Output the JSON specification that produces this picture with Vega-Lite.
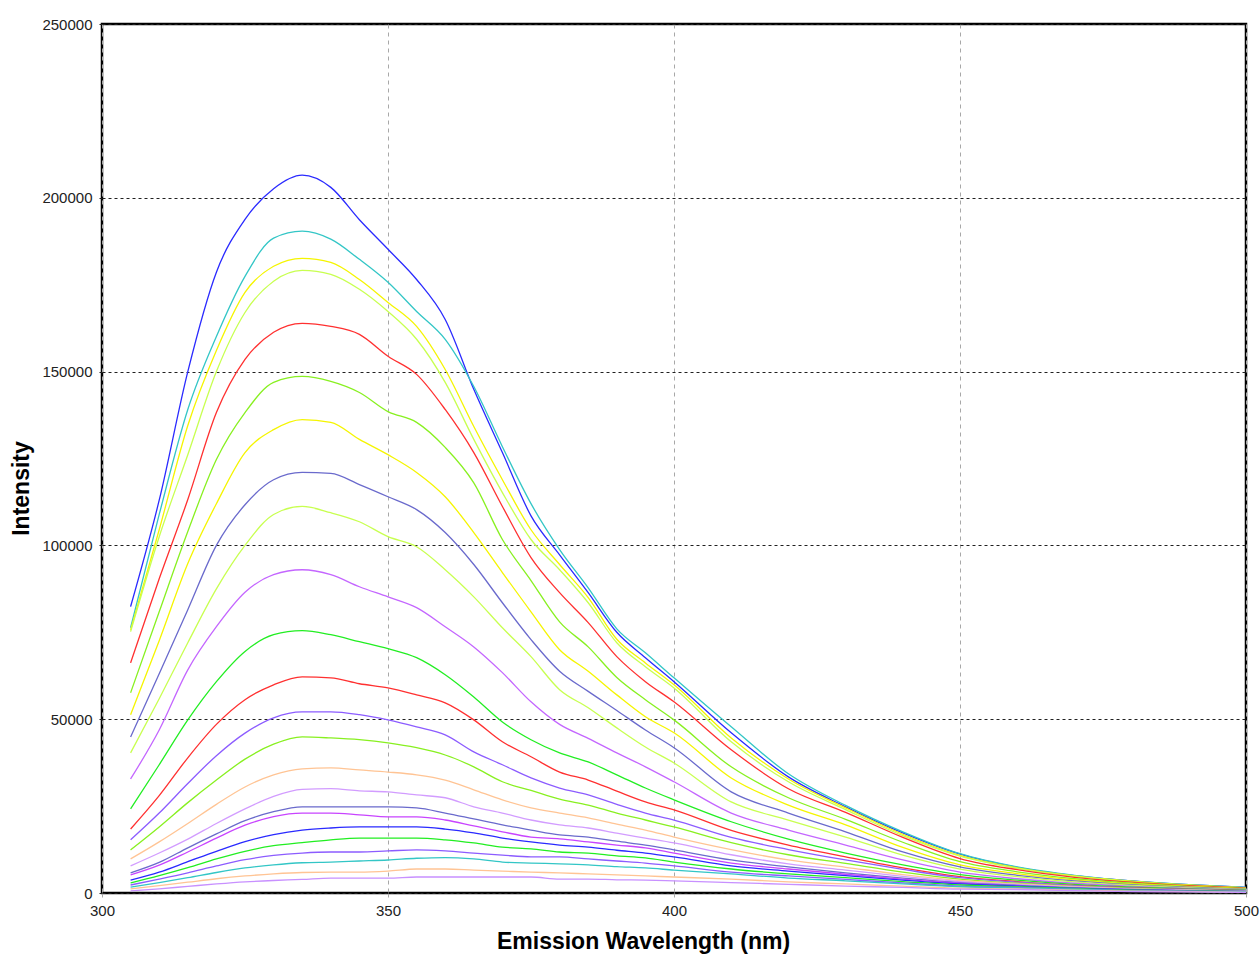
{
"$schema":"https://vega.github.io/schema/vega-lite/v6.json",
"width":1144,"height":869,
"autosize":{"type":"none"},
"padding":{"left":102,"top":24,"right":14,"bottom":63},
"background":"white",
"config":{"view":{"stroke":"black","strokeWidth":2.5},"font":"Liberation Sans"},
"data":{"values":[
{"w":305,"s":1,"i":82400},{"w":310,"s":1,"i":113000},{"w":315,"s":1,"i":150000},{"w":320,"s":1,"i":178600},{"w":325,"s":1,"i":193800},{"w":330,"s":1,"i":202600},{"w":335,"s":1,"i":206500},{"w":340,"s":1,"i":203000},{"w":345,"s":1,"i":193700},{"w":350,"s":1,"i":185200},{"w":355,"s":1,"i":176500},{"w":360,"s":1,"i":165000},{"w":365,"s":1,"i":144900},{"w":370,"s":1,"i":126700},{"w":375,"s":1,"i":108500},{"w":380,"s":1,"i":97300},{"w":385,"s":1,"i":86400},{"w":390,"s":1,"i":75000},{"w":395,"s":1,"i":67700},{"w":400,"s":1,"i":60800},{"w":410,"s":1,"i":46100},{"w":420,"s":1,"i":33400},{"w":430,"s":1,"i":24800},{"w":440,"s":1,"i":17300},{"w":450,"s":1,"i":11200},{"w":460,"s":1,"i":7400},{"w":470,"s":1,"i":5000},{"w":480,"s":1,"i":3500},{"w":490,"s":1,"i":2400},{"w":500,"s":1,"i":1600},
{"w":305,"s":2,"i":76300},{"w":310,"s":2,"i":108900},{"w":315,"s":2,"i":139100},{"w":320,"s":2,"i":160100},{"w":325,"s":2,"i":177400},{"w":330,"s":2,"i":188400},{"w":335,"s":2,"i":190400},{"w":340,"s":2,"i":188100},{"w":345,"s":2,"i":182300},{"w":350,"s":2,"i":175700},{"w":355,"s":2,"i":167300},{"w":360,"s":2,"i":159300},{"w":365,"s":2,"i":145700},{"w":370,"s":2,"i":128400},{"w":375,"s":2,"i":112000},{"w":380,"s":2,"i":98800},{"w":385,"s":2,"i":87800},{"w":390,"s":2,"i":76000},{"w":395,"s":2,"i":69100},{"w":400,"s":2,"i":61900},{"w":410,"s":2,"i":47800},{"w":420,"s":2,"i":34300},{"w":430,"s":2,"i":25200},{"w":440,"s":2,"i":17600},{"w":450,"s":2,"i":11300},{"w":460,"s":2,"i":7500},{"w":470,"s":2,"i":5100},{"w":480,"s":2,"i":3500},{"w":490,"s":2,"i":2400},{"w":500,"s":2,"i":1600},
{"w":305,"s":3,"i":75700},{"w":310,"s":3,"i":104500},{"w":315,"s":3,"i":134500},{"w":320,"s":3,"i":156100},{"w":325,"s":3,"i":172800},{"w":330,"s":3,"i":180300},{"w":335,"s":3,"i":182600},{"w":340,"s":3,"i":181400},{"w":345,"s":3,"i":176500},{"w":350,"s":3,"i":169900},{"w":355,"s":3,"i":163000},{"w":360,"s":3,"i":150600},{"w":365,"s":3,"i":134200},{"w":370,"s":3,"i":118900},{"w":375,"s":3,"i":104500},{"w":380,"s":3,"i":94500},{"w":385,"s":3,"i":85000},{"w":390,"s":3,"i":73000},{"w":395,"s":3,"i":66200},{"w":400,"s":3,"i":59900},{"w":410,"s":3,"i":44600},{"w":420,"s":3,"i":32800},{"w":430,"s":3,"i":24500},{"w":440,"s":3,"i":16900},{"w":450,"s":3,"i":10800},{"w":460,"s":3,"i":7200},{"w":470,"s":3,"i":4900},{"w":480,"s":3,"i":3400},{"w":490,"s":3,"i":2300},{"w":500,"s":3,"i":1500},
{"w":305,"s":4,"i":75200},{"w":310,"s":4,"i":102500},{"w":315,"s":4,"i":126100},{"w":320,"s":4,"i":150000},{"w":325,"s":4,"i":167000},{"w":330,"s":4,"i":176000},{"w":335,"s":4,"i":179100},{"w":340,"s":4,"i":178000},{"w":345,"s":4,"i":173700},{"w":350,"s":4,"i":167300},{"w":355,"s":4,"i":159300},{"w":360,"s":4,"i":146900},{"w":365,"s":4,"i":130500},{"w":370,"s":4,"i":115200},{"w":375,"s":4,"i":101700},{"w":380,"s":4,"i":93000},{"w":385,"s":4,"i":83500},{"w":390,"s":4,"i":72000},{"w":395,"s":4,"i":65100},{"w":400,"s":4,"i":59000},{"w":410,"s":4,"i":43500},{"w":420,"s":4,"i":32000},{"w":430,"s":4,"i":24000},{"w":440,"s":4,"i":16500},{"w":450,"s":4,"i":10600},{"w":460,"s":4,"i":7100},{"w":470,"s":4,"i":4800},{"w":480,"s":4,"i":3300},{"w":490,"s":4,"i":2200},{"w":500,"s":4,"i":1500},
{"w":305,"s":5,"i":66200},{"w":310,"s":5,"i":90400},{"w":315,"s":5,"i":113200},{"w":320,"s":5,"i":138200},{"w":325,"s":5,"i":153500},{"w":330,"s":5,"i":161300},{"w":335,"s":5,"i":163900},{"w":340,"s":5,"i":163000},{"w":345,"s":5,"i":160700},{"w":350,"s":5,"i":154400},{"w":355,"s":5,"i":149200},{"w":360,"s":5,"i":139100},{"w":365,"s":5,"i":126700},{"w":370,"s":5,"i":111200},{"w":375,"s":5,"i":96500},{"w":380,"s":5,"i":86400},{"w":385,"s":5,"i":77800},{"w":390,"s":5,"i":68000},{"w":395,"s":5,"i":60800},{"w":400,"s":5,"i":55000},{"w":410,"s":5,"i":41200},{"w":420,"s":5,"i":30000},{"w":430,"s":5,"i":23200},{"w":440,"s":5,"i":16000},{"w":450,"s":5,"i":9900},{"w":460,"s":5,"i":6700},{"w":470,"s":5,"i":4500},{"w":480,"s":5,"i":3100},{"w":490,"s":5,"i":2100},{"w":500,"s":5,"i":1400},
{"w":305,"s":6,"i":57600},{"w":310,"s":6,"i":80900},{"w":315,"s":6,"i":104000},{"w":320,"s":6,"i":124700},{"w":325,"s":6,"i":138200},{"w":330,"s":6,"i":146900},{"w":335,"s":6,"i":148600},{"w":340,"s":6,"i":147200},{"w":345,"s":6,"i":144000},{"w":350,"s":6,"i":138500},{"w":355,"s":6,"i":135400},{"w":360,"s":6,"i":128200},{"w":365,"s":6,"i":118000},{"w":370,"s":6,"i":101700},{"w":375,"s":6,"i":89900},{"w":380,"s":6,"i":78000},{"w":385,"s":6,"i":70800},{"w":390,"s":6,"i":62000},{"w":395,"s":6,"i":55600},{"w":400,"s":6,"i":49800},{"w":410,"s":6,"i":36300},{"w":420,"s":6,"i":27400},{"w":430,"s":6,"i":21200},{"w":440,"s":6,"i":14600},{"w":450,"s":6,"i":9000},{"w":460,"s":6,"i":6100},{"w":470,"s":6,"i":4100},{"w":480,"s":6,"i":2800},{"w":490,"s":6,"i":1900},{"w":500,"s":6,"i":1300},
{"w":305,"s":7,"i":51300},{"w":310,"s":7,"i":72600},{"w":315,"s":7,"i":94800},{"w":320,"s":7,"i":112000},{"w":325,"s":7,"i":126700},{"w":330,"s":7,"i":133300},{"w":335,"s":7,"i":136200},{"w":340,"s":7,"i":135400},{"w":345,"s":7,"i":130500},{"w":350,"s":7,"i":126100},{"w":355,"s":7,"i":121000},{"w":360,"s":7,"i":114000},{"w":365,"s":7,"i":103700},{"w":370,"s":7,"i":92200},{"w":375,"s":7,"i":80900},{"w":380,"s":7,"i":70000},{"w":385,"s":7,"i":63800},{"w":390,"s":7,"i":57000},{"w":395,"s":7,"i":50700},{"w":400,"s":7,"i":46100},{"w":410,"s":7,"i":33100},{"w":420,"s":7,"i":25300},{"w":430,"s":7,"i":19600},{"w":440,"s":7,"i":13100},{"w":450,"s":7,"i":8100},{"w":460,"s":7,"i":5600},{"w":470,"s":7,"i":3800},{"w":480,"s":7,"i":2600},{"w":490,"s":7,"i":1800},{"w":500,"s":7,"i":1200},
{"w":305,"s":8,"i":44900},{"w":310,"s":8,"i":63100},{"w":315,"s":8,"i":81500},{"w":320,"s":8,"i":100000},{"w":325,"s":8,"i":111700},{"w":330,"s":8,"i":118900},{"w":335,"s":8,"i":121000},{"w":340,"s":8,"i":120700},{"w":345,"s":8,"i":117500},{"w":350,"s":8,"i":114000},{"w":355,"s":8,"i":110300},{"w":360,"s":8,"i":103700},{"w":365,"s":8,"i":94500},{"w":370,"s":8,"i":83500},{"w":375,"s":8,"i":72900},{"w":380,"s":8,"i":63800},{"w":385,"s":8,"i":58000},{"w":390,"s":8,"i":52500},{"w":395,"s":8,"i":46900},{"w":400,"s":8,"i":41800},{"w":410,"s":8,"i":29100},{"w":420,"s":8,"i":23000},{"w":430,"s":8,"i":17600},{"w":440,"s":8,"i":11800},{"w":450,"s":8,"i":7500},{"w":460,"s":8,"i":5100},{"w":470,"s":8,"i":3500},{"w":480,"s":8,"i":2400},{"w":490,"s":8,"i":1700},{"w":500,"s":8,"i":1100},
{"w":305,"s":9,"i":40300},{"w":310,"s":9,"i":55900},{"w":315,"s":9,"i":72000},{"w":320,"s":9,"i":87500},{"w":325,"s":9,"i":100000},{"w":330,"s":9,"i":108900},{"w":335,"s":9,"i":111200},{"w":340,"s":9,"i":109400},{"w":345,"s":9,"i":106800},{"w":350,"s":9,"i":102500},{"w":355,"s":9,"i":99600},{"w":360,"s":9,"i":93000},{"w":365,"s":9,"i":85200},{"w":370,"s":9,"i":76300},{"w":375,"s":9,"i":68000},{"w":380,"s":9,"i":58500},{"w":385,"s":9,"i":53300},{"w":390,"s":9,"i":47500},{"w":395,"s":9,"i":42000},{"w":400,"s":9,"i":37400},{"w":410,"s":9,"i":26200},{"w":420,"s":9,"i":21000},{"w":430,"s":9,"i":16100},{"w":440,"s":9,"i":10900},{"w":450,"s":9,"i":6900},{"w":460,"s":9,"i":4700},{"w":470,"s":9,"i":3200},{"w":480,"s":9,"i":2200},{"w":490,"s":9,"i":1500},{"w":500,"s":9,"i":1000},
{"w":305,"s":10,"i":32800},{"w":310,"s":10,"i":46900},{"w":315,"s":10,"i":64200},{"w":320,"s":10,"i":76600},{"w":325,"s":10,"i":86500},{"w":330,"s":10,"i":91600},{"w":335,"s":10,"i":93000},{"w":340,"s":10,"i":91600},{"w":345,"s":10,"i":88100},{"w":350,"s":10,"i":85200},{"w":355,"s":10,"i":82100},{"w":360,"s":10,"i":76600},{"w":365,"s":10,"i":70800},{"w":370,"s":10,"i":63400},{"w":375,"s":10,"i":55000},{"w":380,"s":10,"i":48500},{"w":385,"s":10,"i":44500},{"w":390,"s":10,"i":40300},{"w":395,"s":10,"i":36300},{"w":400,"s":10,"i":32000},{"w":410,"s":10,"i":23000},{"w":420,"s":10,"i":18100},{"w":430,"s":10,"i":13800},{"w":440,"s":10,"i":9500},{"w":450,"s":10,"i":6000},{"w":460,"s":10,"i":4100},{"w":470,"s":10,"i":2800},{"w":480,"s":10,"i":1900},{"w":490,"s":10,"i":1300},{"w":500,"s":10,"i":900},
{"w":305,"s":11,"i":24200},{"w":310,"s":11,"i":36900},{"w":315,"s":11,"i":49800},{"w":320,"s":11,"i":60800},{"w":325,"s":11,"i":69500},{"w":330,"s":11,"i":74300},{"w":335,"s":11,"i":75500},{"w":340,"s":11,"i":74300},{"w":345,"s":11,"i":72300},{"w":350,"s":11,"i":70300},{"w":355,"s":11,"i":67700},{"w":360,"s":11,"i":62800},{"w":365,"s":11,"i":56400},{"w":370,"s":11,"i":49200},{"w":375,"s":11,"i":44100},{"w":380,"s":11,"i":40300},{"w":385,"s":11,"i":37700},{"w":390,"s":11,"i":34000},{"w":395,"s":11,"i":30200},{"w":400,"s":11,"i":26800},{"w":410,"s":11,"i":20500},{"w":420,"s":11,"i":15500},{"w":430,"s":11,"i":11500},{"w":440,"s":11,"i":8100},{"w":450,"s":11,"i":5300},{"w":460,"s":11,"i":3700},{"w":470,"s":11,"i":2500},{"w":480,"s":11,"i":1700},{"w":490,"s":11,"i":1200},{"w":500,"s":11,"i":800},
{"w":305,"s":12,"i":18400},{"w":310,"s":12,"i":28000},{"w":315,"s":12,"i":38900},{"w":320,"s":12,"i":48500},{"w":325,"s":12,"i":55600},{"w":330,"s":12,"i":59900},{"w":335,"s":12,"i":62200},{"w":340,"s":12,"i":61900},{"w":345,"s":12,"i":60200},{"w":350,"s":12,"i":59000},{"w":355,"s":12,"i":57000},{"w":360,"s":12,"i":54700},{"w":365,"s":12,"i":49800},{"w":370,"s":12,"i":43500},{"w":375,"s":12,"i":39200},{"w":380,"s":12,"i":34800},{"w":385,"s":12,"i":32500},{"w":390,"s":12,"i":29300},{"w":395,"s":12,"i":26200},{"w":400,"s":12,"i":23900},{"w":410,"s":12,"i":18000},{"w":420,"s":12,"i":13800},{"w":430,"s":12,"i":10400},{"w":440,"s":12,"i":7200},{"w":450,"s":12,"i":4700},{"w":460,"s":12,"i":3300},{"w":470,"s":12,"i":2200},{"w":480,"s":12,"i":1500},{"w":490,"s":12,"i":1000},{"w":500,"s":12,"i":700},
{"w":305,"s":13,"i":15300},{"w":310,"s":13,"i":23000},{"w":315,"s":13,"i":31500},{"w":320,"s":13,"i":39500},{"w":325,"s":13,"i":46000},{"w":330,"s":13,"i":50400},{"w":335,"s":13,"i":52100},{"w":340,"s":13,"i":52100},{"w":345,"s":13,"i":51300},{"w":350,"s":13,"i":49800},{"w":355,"s":13,"i":47800},{"w":360,"s":13,"i":45500},{"w":365,"s":13,"i":40600},{"w":370,"s":13,"i":36900},{"w":375,"s":13,"i":33100},{"w":380,"s":13,"i":30200},{"w":385,"s":13,"i":28200},{"w":390,"s":13,"i":25500},{"w":395,"s":13,"i":23000},{"w":400,"s":13,"i":21000},{"w":410,"s":13,"i":16000},{"w":420,"s":13,"i":12500},{"w":430,"s":13,"i":9500},{"w":440,"s":13,"i":6800},{"w":450,"s":13,"i":4400},{"w":460,"s":13,"i":3100},{"w":470,"s":13,"i":2100},{"w":480,"s":13,"i":1400},{"w":490,"s":13,"i":1000},{"w":500,"s":13,"i":700},
{"w":305,"s":14,"i":12400},{"w":310,"s":14,"i":19000},{"w":315,"s":14,"i":26000},{"w":320,"s":14,"i":32500},{"w":325,"s":14,"i":38500},{"w":330,"s":14,"i":42800},{"w":335,"s":14,"i":44900},{"w":340,"s":14,"i":44600},{"w":345,"s":14,"i":44100},{"w":350,"s":14,"i":43200},{"w":355,"s":14,"i":41800},{"w":360,"s":14,"i":39700},{"w":365,"s":14,"i":36300},{"w":370,"s":14,"i":32000},{"w":375,"s":14,"i":29500},{"w":380,"s":14,"i":27000},{"w":385,"s":14,"i":25300},{"w":390,"s":14,"i":23000},{"w":395,"s":14,"i":21000},{"w":400,"s":14,"i":19000},{"w":410,"s":14,"i":14500},{"w":420,"s":14,"i":11000},{"w":430,"s":14,"i":8500},{"w":440,"s":14,"i":6000},{"w":450,"s":14,"i":4000},{"w":460,"s":14,"i":2800},{"w":470,"s":14,"i":1900},{"w":480,"s":14,"i":1300},{"w":490,"s":14,"i":900},{"w":500,"s":14,"i":600},
{"w":305,"s":15,"i":9800},{"w":310,"s":15,"i":14700},{"w":315,"s":15,"i":20000},{"w":320,"s":15,"i":25500},{"w":325,"s":15,"i":30500},{"w":330,"s":15,"i":34000},{"w":335,"s":15,"i":35700},{"w":340,"s":15,"i":36000},{"w":345,"s":15,"i":35400},{"w":350,"s":15,"i":34800},{"w":355,"s":15,"i":34000},{"w":360,"s":15,"i":32500},{"w":365,"s":15,"i":29700},{"w":370,"s":15,"i":26800},{"w":375,"s":15,"i":24500},{"w":380,"s":15,"i":23000},{"w":385,"s":15,"i":21600},{"w":390,"s":15,"i":19800},{"w":395,"s":15,"i":18100},{"w":400,"s":15,"i":16100},{"w":410,"s":15,"i":12500},{"w":420,"s":15,"i":9500},{"w":430,"s":15,"i":7400},{"w":440,"s":15,"i":5300},{"w":450,"s":15,"i":3600},{"w":460,"s":15,"i":2600},{"w":470,"s":15,"i":1800},{"w":480,"s":15,"i":1200},{"w":490,"s":15,"i":800},{"w":500,"s":15,"i":500},
{"w":305,"s":16,"i":7800},{"w":310,"s":16,"i":11500},{"w":315,"s":16,"i":15500},{"w":320,"s":16,"i":20000},{"w":325,"s":16,"i":24200},{"w":330,"s":16,"i":27800},{"w":335,"s":16,"i":29800},{"w":340,"s":16,"i":30000},{"w":345,"s":16,"i":29400},{"w":350,"s":16,"i":29100},{"w":355,"s":16,"i":28200},{"w":360,"s":16,"i":27400},{"w":365,"s":16,"i":24800},{"w":370,"s":16,"i":23000},{"w":375,"s":16,"i":21000},{"w":380,"s":16,"i":19600},{"w":385,"s":16,"i":18700},{"w":390,"s":16,"i":17200},{"w":395,"s":16,"i":15800},{"w":400,"s":16,"i":14400},{"w":410,"s":16,"i":11000},{"w":420,"s":16,"i":8400},{"w":430,"s":16,"i":6600},{"w":440,"s":16,"i":4800},{"w":450,"s":16,"i":3300},{"w":460,"s":16,"i":2400},{"w":470,"s":16,"i":1700},{"w":480,"s":16,"i":1100},{"w":490,"s":16,"i":800},{"w":500,"s":16,"i":500},
{"w":305,"s":17,"i":5800},{"w":310,"s":17,"i":8800},{"w":315,"s":17,"i":13000},{"w":320,"s":17,"i":17000},{"w":325,"s":17,"i":20800},{"w":330,"s":17,"i":23400},{"w":335,"s":17,"i":24800},{"w":340,"s":17,"i":24800},{"w":345,"s":17,"i":24800},{"w":350,"s":17,"i":24800},{"w":355,"s":17,"i":24500},{"w":360,"s":17,"i":23000},{"w":365,"s":17,"i":21300},{"w":370,"s":17,"i":19600},{"w":375,"s":17,"i":18100},{"w":380,"s":17,"i":16700},{"w":385,"s":17,"i":16100},{"w":390,"s":17,"i":14900},{"w":395,"s":17,"i":13800},{"w":400,"s":17,"i":12400},{"w":410,"s":17,"i":9500},{"w":420,"s":17,"i":7500},{"w":430,"s":17,"i":5800},{"w":440,"s":17,"i":4300},{"w":450,"s":17,"i":3000},{"w":460,"s":17,"i":2200},{"w":470,"s":17,"i":1500},{"w":480,"s":17,"i":1000},{"w":490,"s":17,"i":700},{"w":500,"s":17,"i":500},
{"w":305,"s":18,"i":5200},{"w":310,"s":18,"i":8000},{"w":315,"s":18,"i":11800},{"w":320,"s":18,"i":15800},{"w":325,"s":18,"i":19500},{"w":330,"s":18,"i":22000},{"w":335,"s":18,"i":23000},{"w":340,"s":18,"i":23000},{"w":345,"s":18,"i":22500},{"w":350,"s":18,"i":21900},{"w":355,"s":18,"i":21900},{"w":360,"s":18,"i":21000},{"w":365,"s":18,"i":19300},{"w":370,"s":18,"i":17600},{"w":375,"s":18,"i":16100},{"w":380,"s":18,"i":15600},{"w":385,"s":18,"i":14700},{"w":390,"s":18,"i":13800},{"w":395,"s":18,"i":13000},{"w":400,"s":18,"i":11500},{"w":410,"s":18,"i":8600},{"w":420,"s":18,"i":6900},{"w":430,"s":18,"i":5400},{"w":440,"s":18,"i":4000},{"w":450,"s":18,"i":2800},{"w":460,"s":18,"i":2000},{"w":470,"s":18,"i":1400},{"w":480,"s":18,"i":900},{"w":490,"s":18,"i":600},{"w":500,"s":18,"i":400},
{"w":305,"s":19,"i":3700},{"w":310,"s":19,"i":6000},{"w":315,"s":19,"i":9000},{"w":320,"s":19,"i":12000},{"w":325,"s":19,"i":14800},{"w":330,"s":19,"i":16800},{"w":335,"s":19,"i":18100},{"w":340,"s":19,"i":18700},{"w":345,"s":19,"i":19000},{"w":350,"s":19,"i":19000},{"w":355,"s":19,"i":19000},{"w":360,"s":19,"i":18400},{"w":365,"s":19,"i":17300},{"w":370,"s":19,"i":15800},{"w":375,"s":19,"i":14700},{"w":380,"s":19,"i":13800},{"w":385,"s":19,"i":13200},{"w":390,"s":19,"i":12300},{"w":395,"s":19,"i":11500},{"w":400,"s":19,"i":10400},{"w":410,"s":19,"i":7800},{"w":420,"s":19,"i":6300},{"w":430,"s":19,"i":5000},{"w":440,"s":19,"i":3700},{"w":450,"s":19,"i":2600},{"w":460,"s":19,"i":2000},{"w":470,"s":19,"i":1400},{"w":480,"s":19,"i":900},{"w":490,"s":19,"i":600},{"w":500,"s":19,"i":400},
{"w":305,"s":20,"i":2900},{"w":310,"s":20,"i":5000},{"w":315,"s":20,"i":7300},{"w":320,"s":20,"i":9800},{"w":325,"s":20,"i":12000},{"w":330,"s":20,"i":13600},{"w":335,"s":20,"i":14500},{"w":340,"s":20,"i":15300},{"w":345,"s":20,"i":15800},{"w":350,"s":20,"i":15800},{"w":355,"s":20,"i":15800},{"w":360,"s":20,"i":15300},{"w":365,"s":20,"i":14400},{"w":370,"s":20,"i":13200},{"w":375,"s":20,"i":12700},{"w":380,"s":20,"i":11800},{"w":385,"s":20,"i":11500},{"w":390,"s":20,"i":10700},{"w":395,"s":20,"i":10100},{"w":400,"s":20,"i":8900},{"w":410,"s":20,"i":6900},{"w":420,"s":20,"i":5500},{"w":430,"s":20,"i":4400},{"w":440,"s":20,"i":3300},{"w":450,"s":20,"i":2300},{"w":460,"s":20,"i":1800},{"w":470,"s":20,"i":1300},{"w":480,"s":20,"i":800},{"w":490,"s":20,"i":600},{"w":500,"s":20,"i":400},
{"w":305,"s":21,"i":2300},{"w":310,"s":21,"i":4000},{"w":315,"s":21,"i":5800},{"w":320,"s":21,"i":7800},{"w":325,"s":21,"i":9600},{"w":330,"s":21,"i":10800},{"w":335,"s":21,"i":11500},{"w":340,"s":21,"i":11800},{"w":345,"s":21,"i":11800},{"w":350,"s":21,"i":12100},{"w":355,"s":21,"i":12400},{"w":360,"s":21,"i":12100},{"w":365,"s":21,"i":11500},{"w":370,"s":21,"i":10900},{"w":375,"s":21,"i":10400},{"w":380,"s":21,"i":10400},{"w":385,"s":21,"i":9800},{"w":390,"s":21,"i":9200},{"w":395,"s":21,"i":8600},{"w":400,"s":21,"i":7800},{"w":410,"s":21,"i":6000},{"w":420,"s":21,"i":4900},{"w":430,"s":21,"i":3900},{"w":440,"s":21,"i":2900},{"w":450,"s":21,"i":2000},{"w":460,"s":21,"i":1600},{"w":470,"s":21,"i":1100},{"w":480,"s":21,"i":700},{"w":490,"s":21,"i":500},{"w":500,"s":21,"i":300},
{"w":305,"s":22,"i":1700},{"w":310,"s":22,"i":3000},{"w":315,"s":22,"i":4400},{"w":320,"s":22,"i":5900},{"w":325,"s":22,"i":7200},{"w":330,"s":22,"i":8100},{"w":335,"s":22,"i":8700},{"w":340,"s":22,"i":8900},{"w":345,"s":22,"i":9200},{"w":350,"s":22,"i":9500},{"w":355,"s":22,"i":10000},{"w":360,"s":22,"i":10200},{"w":365,"s":22,"i":9800},{"w":370,"s":22,"i":8900},{"w":375,"s":22,"i":8600},{"w":380,"s":22,"i":8400},{"w":385,"s":22,"i":8100},{"w":390,"s":22,"i":7600},{"w":395,"s":22,"i":7200},{"w":400,"s":22,"i":6600},{"w":410,"s":22,"i":5500},{"w":420,"s":22,"i":4300},{"w":430,"s":22,"i":3500},{"w":440,"s":22,"i":2600},{"w":450,"s":22,"i":1800},{"w":460,"s":22,"i":1400},{"w":470,"s":22,"i":1000},{"w":480,"s":22,"i":600},{"w":490,"s":22,"i":400},{"w":500,"s":22,"i":300},
{"w":305,"s":23,"i":1200},{"w":310,"s":23,"i":2100},{"w":315,"s":23,"i":3100},{"w":320,"s":23,"i":4100},{"w":325,"s":23,"i":4900},{"w":330,"s":23,"i":5500},{"w":335,"s":23,"i":5900},{"w":340,"s":23,"i":6000},{"w":345,"s":23,"i":6000},{"w":350,"s":23,"i":6300},{"w":355,"s":23,"i":6900},{"w":360,"s":23,"i":6900},{"w":365,"s":23,"i":6600},{"w":370,"s":23,"i":6300},{"w":375,"s":23,"i":6000},{"w":380,"s":23,"i":5800},{"w":385,"s":23,"i":5500},{"w":390,"s":23,"i":5200},{"w":395,"s":23,"i":4900},{"w":400,"s":23,"i":4600},{"w":410,"s":23,"i":4000},{"w":420,"s":23,"i":3200},{"w":430,"s":23,"i":2600},{"w":440,"s":23,"i":2000},{"w":450,"s":23,"i":1400},{"w":460,"s":23,"i":1200},{"w":470,"s":23,"i":800},{"w":480,"s":23,"i":500},{"w":490,"s":23,"i":400},{"w":500,"s":23,"i":200},
{"w":305,"s":24,"i":600},{"w":310,"s":24,"i":1200},{"w":315,"s":24,"i":1900},{"w":320,"s":24,"i":2600},{"w":325,"s":24,"i":3200},{"w":330,"s":24,"i":3600},{"w":335,"s":24,"i":3900},{"w":340,"s":24,"i":4300},{"w":345,"s":24,"i":4300},{"w":350,"s":24,"i":4300},{"w":355,"s":24,"i":4600},{"w":360,"s":24,"i":4600},{"w":365,"s":24,"i":4600},{"w":370,"s":24,"i":4600},{"w":375,"s":24,"i":4600},{"w":380,"s":24,"i":4000},{"w":385,"s":24,"i":4000},{"w":390,"s":24,"i":3800},{"w":395,"s":24,"i":3700},{"w":400,"s":24,"i":3500},{"w":410,"s":24,"i":3000},{"w":420,"s":24,"i":2500},{"w":430,"s":24,"i":2000},{"w":440,"s":24,"i":1600},{"w":450,"s":24,"i":1100},{"w":460,"s":24,"i":1000},{"w":470,"s":24,"i":700},{"w":480,"s":24,"i":400},{"w":490,"s":24,"i":300},{"w":500,"s":24,"i":200}
]},
"mark":{"type":"line","strokeWidth":1.3,"clip":true,"interpolate":"monotone"},
"encoding":{
"x":{"field":"w","type":"quantitative","scale":{"domain":[300,500],"nice":false,"zero":false},
"axis":{"values":[300,350,400,450,500],"grid":true,"gridColor":"#a8a8a8","gridDash":[4,4],"gridWidth":1,"domain":false,"ticks":true,"tickColor":"#a8a8a8","tickDash":[4,4],"tickSize":7,"labelFontSize":15,"labelColor":"#222222","labelPadding":3,"labelFlush":false,"labelFont":"Liberation Sans",
"title":"Emission Wavelength (nm)","titleFont":"Liberation Sans","titleFontSize":23,"titleFontWeight":"bold","titleColor":"#000000","titleX":541,"titleY":37,"titleBaseline":"top","titleAnchor":"middle","titleAlign":"center"}},
"y":{"field":"i","type":"quantitative","scale":{"domain":[0,250000],"nice":false},
"axis":{"values":[0,50000,100000,150000,200000,250000],"format":"d","grid":true,"gridColor":"#202020","gridDash":[3,3],"gridWidth":1,"domain":false,"ticks":true,"tickColor":"#202020","tickDash":[3,3],"tickSize":6,"labelFontSize":15,"labelColor":"#222222","labelPadding":4,"labelFont":"Liberation Sans",
"title":"Intensity","titleFont":"Liberation Sans","titleFontSize":23,"titleFontWeight":"bold","titleColor":"#000000","titleX":-69,"titleY":464,"titleAngle":-90,"titleBaseline":"bottom","titleAlign":"center"}},
"color":{"field":"s","type":"nominal","scale":{"domain":[1,2,3,4,5,6,7,8,9,10,11,12,13,14,15,16,17,18,19,20,21,22,23,24],
"range":["#2a2aff","#33c6c6","#f5f500","#c8ff50","#ff3030","#88f020","#f5f500","#6a6acc","#c8ff50","#c466ff","#22ee22","#ff3030","#8c5cff","#88f020","#ffc494","#d29cff","#6a6acc","#c844ff","#2a2aff","#22ee22","#8c5cff","#33c6c6","#ffc494","#c890ff"]},"legend":null}
}
}
